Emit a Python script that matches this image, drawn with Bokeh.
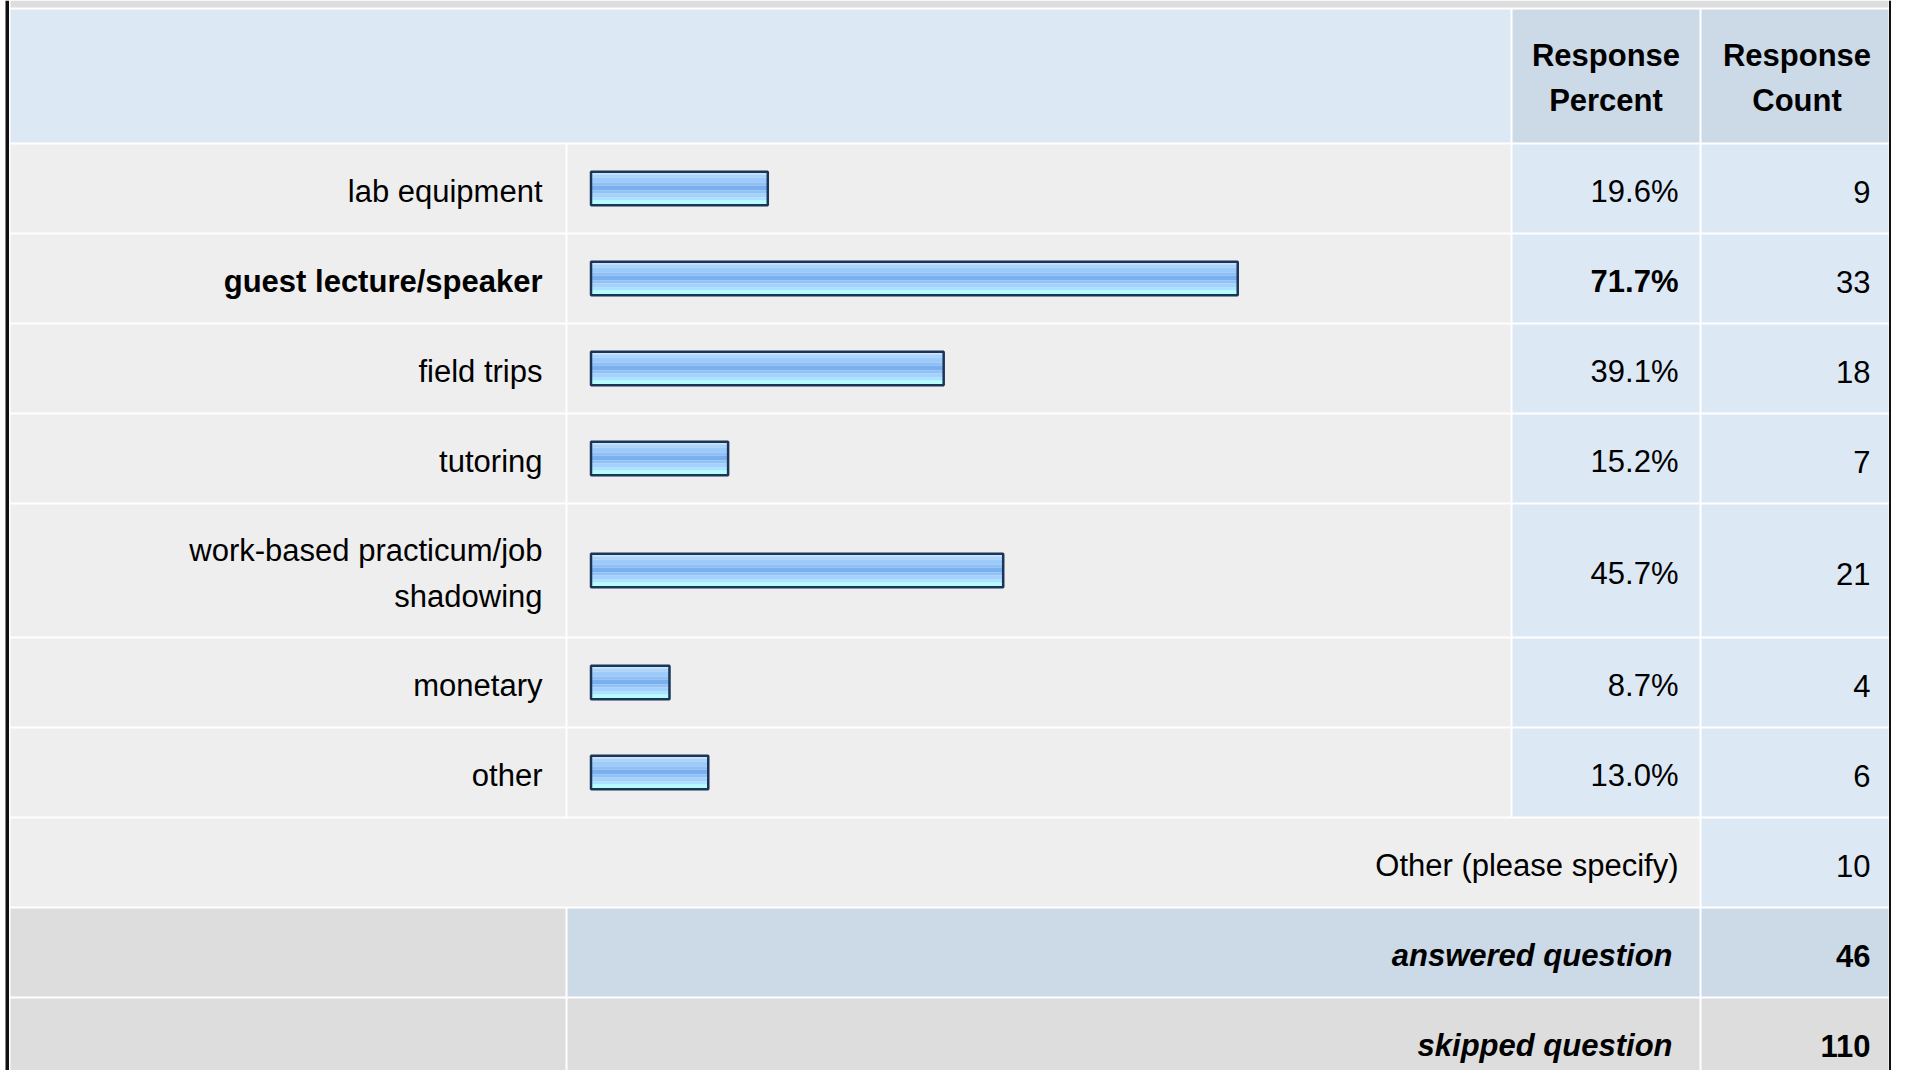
from bokeh.plotting import figure
from bokeh.models import Range1d
from bokeh.core.properties import value
from bokeh.embed import file_html
from bokeh.resources import INLINE

# ---------------- data ----------------
categories = ["lab equipment", "guest lecture/speaker", "field trips", "tutoring",
              "work-based practicum/job shadowing", "monetary", "other"]
label_lines = [["lab equipment"], ["guest lecture/speaker"], ["field trips"], ["tutoring"],
               ["work-based practicum/job", "shadowing"], ["monetary"], ["other"]]
percents = [19.6, 71.7, 39.1, 15.2, 45.7, 8.7, 13.0]
counts = [9, 33, 18, 7, 21, 4, 6]
header_percent = ["Response", "Percent"]
header_count = ["Response", "Count"]
other_label = "Other (please specify)"
other_count = 10
answered_label = "answered question"
answered_count = 46
skipped_label = "skipped question"
skipped_count = 110

# ---------------- layout (pixel coordinates) ----------------
W, H = 1891, 1070
X0, Y0 = 0, 0
FONT = value("Liberation Sans")
FS = "31px"
TXT_DY = 3

C_LEFT, C_LAB_R, C_BAR_L, C_BAR_R, C_PCT_L, C_PCT_R, C_CNT_L, C_CNT_R = 10, 565, 567, 1510, 1512, 1699, 1701, 1888
HEADER_TOP, HEADER_BOT = 9, 142
GAP = 2
row_heights = [88, 88, 88, 88, 132, 88, 88]
EXTRA_H = 88

GREY_CELL = "#eeeeee"
BLUE_CELL = "#dde8f5"
HEAD_BLUE = "#ccd9e6"
DARK_GREY = "#dddddd"

p = figure(width=W, height=H, output_backend="svg", toolbar_location=None,
           x_range=Range1d(X0, X0 + W), y_range=Range1d(Y0 + H, Y0),
           x_axis_location=None, y_axis_location=None, min_border=0,
           background_fill_color="white", border_fill_color="white")
p.outline_line_color = None
p.xgrid.visible = False
p.ygrid.visible = False

# percent scale for bars
BAR_X0, PX_PER_PCT = 590.5, 9.02
start = (X0 - BAR_X0) / PX_PER_PCT
p.extra_x_ranges = {"pct": Range1d(start, start + W / PX_PER_PCT)}

def cell(l, r, t, b, color):
    p.quad(left=[l], right=[r], top=[t], bottom=[b], fill_color=color, line_color=None)

def txt(x, y, s, align="right", style="normal"):
    p.text(x=[x], y=[y], text=[s], text_align=align, text_baseline="middle",
           text_font=FONT, text_font_size=FS, text_font_style=style, text_color="#000000")

# top strip
cell(C_LEFT, C_CNT_R, 0, 7, DARK_GREY)

# header
cell(C_LEFT, C_PCT_L - GAP, HEADER_TOP, HEADER_BOT, BLUE_CELL)
cell(C_PCT_L, C_PCT_R, HEADER_TOP, HEADER_BOT, HEAD_BLUE)
cell(C_CNT_L, C_CNT_R, HEADER_TOP, HEADER_BOT, HEAD_BLUE)
for i, (a, b) in enumerate(zip(header_percent, header_count)):
    yy = 55 + 45 * i
    txt((C_PCT_L + C_PCT_R) / 2, yy, a, "center", "bold")
    txt((C_CNT_L + 1892) / 2, yy, b, "center", "bold")

# rows
stripes = [(-16.5, -14, "#c9e3fc"), (-14, -11, "#aad4fc"), (-11, -6, "#9bcafb"),
           (-6, -3, "#8ebff7"), (-3, 2, "#79b0f0"), (2, 5, "#8ec2f8"),
           (5, 9, "#a2d2fd"), (9, 12, "#aae2ff"), (12, 16.5, "#b4feff")]
top = HEADER_BOT + GAP
imax = percents.index(max(percents))
for i, h in enumerate(row_heights):
    bot = top + h
    cy = (top + bot) / 2
    cell(C_LEFT, C_LAB_R, top, bot, GREY_CELL)
    cell(C_BAR_L, C_BAR_R, top, bot, GREY_CELL)
    cell(C_PCT_L, C_PCT_R, top, bot, BLUE_CELL)
    cell(C_CNT_L, C_CNT_R, top, bot, BLUE_CELL)
    style = "bold" if i == imax else "normal"
    lines = label_lines[i]
    n = len(lines)
    for k, ln in enumerate(lines):
        txt(542, cy + TXT_DY + (k - (n - 1) / 2) * 46, ln, "right", style)
    txt(1678, cy + TXT_DY, f"{percents[i]:.1f}%", "right", style)
    txt(1870, cy + TXT_DY, str(counts[i]), "right")
    # bar with gradient stripes
    for a, b, col in stripes:
        p.quad(left=[0], right=[percents[i]], top=[cy + a], bottom=[cy + b],
               fill_color=col, line_color=None, x_range_name="pct")
    p.quad(left=[0], right=[percents[i]], top=[cy - 16.75], bottom=[cy + 16.75],
           fill_color=None, line_color="#1b3557", line_width=2.5, x_range_name="pct")
    top = bot + GAP

# other (please specify)
bot = top + EXTRA_H
cy = (top + bot) / 2
cell(C_LEFT, C_PCT_R, top, bot, GREY_CELL)
cell(C_CNT_L, C_CNT_R, top, bot, BLUE_CELL)
txt(1678, cy + TXT_DY, other_label)
txt(1870, cy + TXT_DY, str(other_count))
top = bot + GAP

# answered
bot = top + EXTRA_H
cy = (top + bot) / 2
cell(C_LEFT, C_LAB_R, top, bot, DARK_GREY)
cell(C_BAR_L, C_PCT_R, top, bot, HEAD_BLUE)
cell(C_CNT_L, C_CNT_R, top, bot, HEAD_BLUE)
txt(1672, cy + TXT_DY, answered_label, "right", "bold italic")
txt(1870, cy + TXT_DY, str(answered_count), "right", "bold")
top = bot + GAP

# skipped
bot = top + EXTRA_H
cy = (top + bot) / 2
cell(C_LEFT, C_LAB_R, top, bot, DARK_GREY)
cell(C_BAR_L, C_PCT_R, top, bot, DARK_GREY)
cell(C_CNT_L, C_CNT_R, top, bot, DARK_GREY)
txt(1672, cy + TXT_DY, skipped_label, "right", "bold italic")
txt(1870, cy + TXT_DY, str(skipped_count), "right", "bold")

# outer borders
cell(5, 8.5, 0, H, "#111111")
cell(1888.5, 1891, 0, H, "#111111")

open("out.html", "w").write(file_html(p, INLINE))
